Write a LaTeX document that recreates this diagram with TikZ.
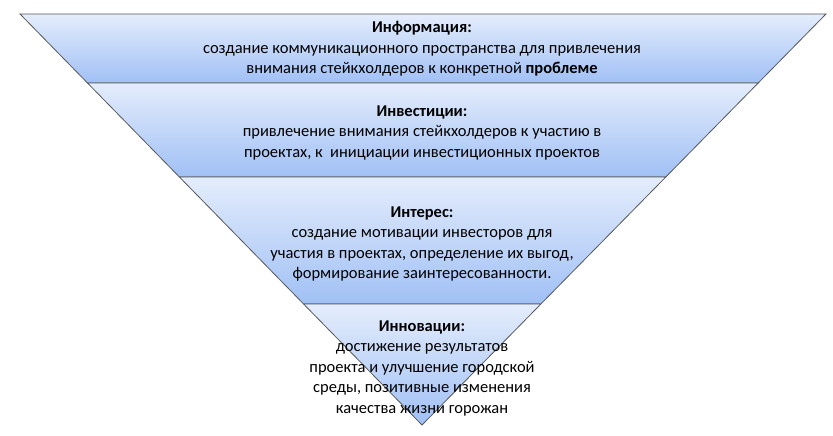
\documentclass[tikz,border=0pt]{standalone}
\usepackage{fontspec}
\setmainfont{Carlito}
\definecolor{bandtop}{RGB}{228,237,252}
\definecolor{bandbot}{RGB}{160,192,245}
\begin{document}
\begin{tikzpicture}[x=1pt,y=-1pt,
  band/.style={top color=bandtop, bottom color=bandbot, draw=gray!70!black, line width=0.8pt},
  txt/.style={align=center, font=\fontsize{16.5}{20.5}\selectfont, text=black, inner sep=0pt}]
\useasboundingbox (0,0) rectangle (833,436);
\coordinate (A) at (20,14); \coordinate (B) at (826,14);
\coordinate (L1) at (87.5,83); \coordinate (R1) at (758.2,83);
\coordinate (L2) at (179.4,177); \coordinate (R2) at (665.8,177);
\coordinate (L3) at (303.6,304); \coordinate (R3) at (540.9,304);
\coordinate (P) at (422,425);
\shade[band] (A) -- (B) -- (R1) -- (L1) -- cycle;
\shade[band] (L1) -- (R1) -- (R2) -- (L2) -- cycle;
\shade[band] (L2) -- (R2) -- (R3) -- (L3) -- cycle;
\shade[band] (L3) -- (R3) -- (P) -- cycle;
\node[txt] (t1) at (422,49) {\textbf{Информация:}\\создание коммуникационного пространства для привлечения\\внимания стейкхолдеров к конкретной \textbf{проблеме}};
\node[txt] (t2) at (422,133) {\textbf{Инвестиции:}\\привлечение внимания стейкхолдеров к участию в\\проектах, к\ \ инициации инвестиционных проектов};
\node[txt] (t3) at (422,244) {\textbf{Интерес:}\\создание мотивации инвесторов для\\участия в проектах, определение их выгод,\\формирование заинтересованности.};
\node[txt] (t4) at (422,368) {\textbf{Инновации:}\\достижение результатов\\проекта и улучшение городской\\среды, позитивные изменения\\качества жизни горожан};
\end{tikzpicture}
\end{document}
